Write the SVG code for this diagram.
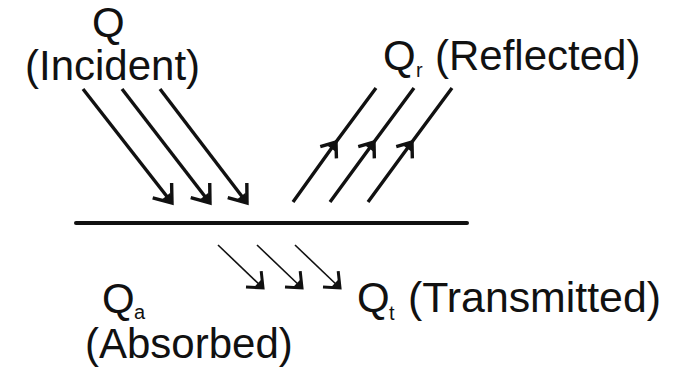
<svg xmlns="http://www.w3.org/2000/svg" width="679" height="368" viewBox="0 0 679 368">
  <style>
    .lbl { font-family: "Liberation Sans", Arial, sans-serif; font-size: 42px; fill: #111; }
    .sub { font-family: "Liberation Sans", Arial, sans-serif; font-size: 20px; fill: #111; }
    .ray { stroke: #111; stroke-width: 3.4; fill: none; stroke-linecap: butt; }
    .thin { stroke: #111; stroke-width: 1.6; fill: none; }
    .surface { stroke: #111; stroke-width: 4; stroke-linecap: round; }
  </style>
  <defs>
    <marker id="head" markerUnits="userSpaceOnUse" viewBox="-24 -16 28 32" refX="0" refY="0" markerWidth="28" markerHeight="32" orient="auto">
      <path d="M-16,-12 L0,0 L-16,12" fill="none" stroke="#111" stroke-width="3.4" stroke-linejoin="miter"/>
      <path d="M-9,-5 L0,0 L-9,5 Z" fill="#111"/>
    </marker>
    <marker id="head-mid" markerUnits="userSpaceOnUse" viewBox="-22 -14 26 28" refX="0" refY="0" markerWidth="26" markerHeight="28" orient="auto">
      <path d="M-13,-10 L0,0 L-13,10" fill="none" stroke="#111" stroke-width="3.4" stroke-linejoin="miter"/>
      <path d="M-8,-5 L0,0 L-8,5 Z" fill="#111"/>
    </marker>
    <marker id="head-small" markerUnits="userSpaceOnUse" viewBox="-22 -14 26 28" refX="0" refY="0" markerWidth="26" markerHeight="28" orient="auto">
      <path d="M-13,-11 L0,0 L-13,11" fill="none" stroke="#111" stroke-width="3" stroke-linejoin="miter"/>
      <path d="M-7,-5 L0,0 L-7,5 Z" fill="#111"/>
    </marker>
  </defs>

  <!-- surface -->
  <g id="surface">
    <line class="surface" x1="76" y1="223" x2="467" y2="223"/>
  </g>

  <!-- labels -->
  <g id="incident">
    <text class="lbl" x="92" y="37">Q</text>
    <text class="lbl" x="25" y="80">(Incident)</text>
  </g>
  <g id="reflected">
    <text class="lbl" x="383" y="70">Q</text>
    <text class="sub" x="416" y="77">r</text>
    <text class="lbl" x="435" y="70">(Reflected)</text>
  </g>
  <g id="absorbed">
    <text class="lbl" x="102" y="313">Q</text>
    <text class="sub" x="134" y="319">a</text>
    <text class="lbl" x="85" y="358">(Absorbed)</text>
  </g>
  <g id="transmitted">
    <text class="lbl" x="357" y="312">Q</text>
    <text class="sub" x="389" y="320">t</text>
    <text class="lbl" x="408" y="312" textLength="253" lengthAdjust="spacingAndGlyphs">(Transmitted)</text>
  </g>

  <!-- rays -->
  <g id="connectors">
    <line class="ray" x1="83" y1="89" x2="172" y2="203" marker-end="url(#head)"/>
    <line class="ray" x1="122" y1="89" x2="210" y2="203" marker-end="url(#head)"/>
    <line class="ray" x1="160" y1="89" x2="247" y2="203" marker-end="url(#head)"/>

    <path class="ray" d="M293,202 L336,142 L376,88" marker-mid="url(#head-mid)"/>
    <path class="ray" d="M330,202 L374,142 L414,88" marker-mid="url(#head-mid)"/>
    <path class="ray" d="M368,202 L412,142 L452,88" marker-mid="url(#head-mid)"/>

    <line class="thin" x1="218" y1="245" x2="263" y2="288" marker-end="url(#head-small)"/>
    <line class="thin" x1="257" y1="245" x2="302" y2="288" marker-end="url(#head-small)"/>
    <line class="thin" x1="295" y1="245" x2="340" y2="288" marker-end="url(#head-small)"/>
  </g>
</svg>
